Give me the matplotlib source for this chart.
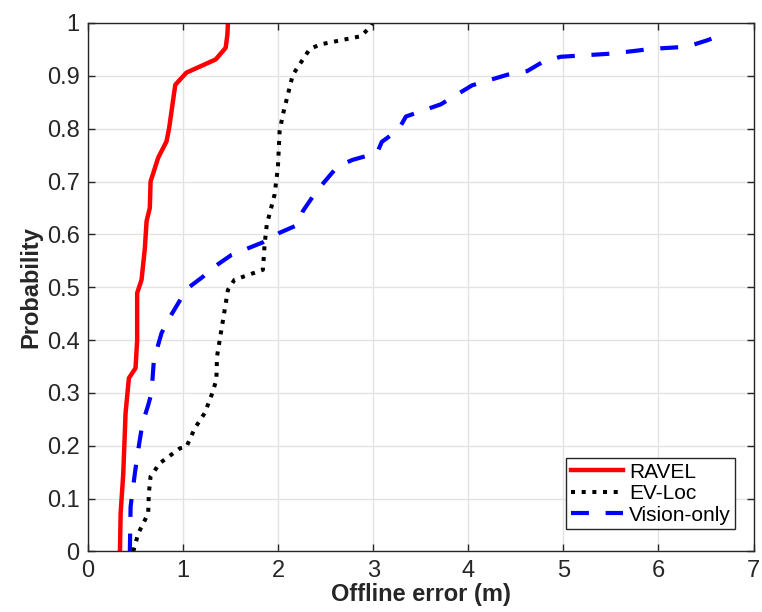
import matplotlib.pyplot as plt

plt.rcParams['font.family'] = ['Liberation Sans', 'DejaVu Sans']

# empirical CDF points (error in metres, cumulative probability)
ravel_err = [0.336, 0.343, 0.371, 0.395, 0.43, 0.50, 0.517, 0.517, 0.563, 0.598,
             0.616, 0.65, 0.658, 0.738, 0.826, 0.853, 0.918, 1.035, 1.343, 1.448,
             1.466, 1.472]
ravel_prob = [0.0, 0.072, 0.148, 0.262, 0.328, 0.347, 0.40, 0.489, 0.514, 0.574,
              0.625, 0.65, 0.70, 0.745, 0.776, 0.801, 0.883, 0.906, 0.931, 0.953,
              0.978, 1.0]

evloc_err = [0.476, 0.528, 0.633, 0.64, 0.658, 0.755, 0.965, 1.035, 1.123, 1.228,
             1.308, 1.35, 1.357, 1.385, 1.42, 1.472, 1.54, 1.84, 1.857, 1.88,
             1.962, 1.997, 2.015, 2.05, 2.154, 2.33, 2.434, 2.872, 2.96, 2.99]
evloc_prob = [0.0, 0.034, 0.072, 0.11, 0.142, 0.167, 0.195, 0.198, 0.233, 0.262,
              0.30, 0.325, 0.369, 0.40, 0.438, 0.495, 0.514, 0.533, 0.58, 0.618,
              0.675, 0.726, 0.795, 0.827, 0.902, 0.95, 0.959, 0.975, 0.991, 1.0]

vision_err = [0.44, 0.448, 0.493, 0.539, 0.574, 0.633, 0.668, 0.693, 0.773, 0.843,
              1.04, 1.21, 1.332, 1.508, 1.84, 2.015, 2.207, 2.26, 2.40, 2.627,
              2.784, 3.04, 3.09, 3.265, 3.344, 3.71, 4.04, 4.41, 4.62, 4.78,
              4.97, 5.51, 5.93, 6.30, 6.51, 6.70]
vision_prob = [0.0, 0.085, 0.148, 0.205, 0.243, 0.277, 0.30, 0.363, 0.413, 0.438,
               0.497, 0.52, 0.539, 0.561, 0.585, 0.603, 0.618, 0.644, 0.681, 0.729,
               0.741, 0.754, 0.775, 0.798, 0.823, 0.846, 0.882, 0.902, 0.909, 0.926,
               0.936, 0.942, 0.951, 0.955, 0.967, 0.980]

x_ticks = [0, 1, 2, 3, 4, 5, 6, 7]
y_ticks = [0, 0.1, 0.2, 0.3, 0.4, 0.5, 0.6, 0.7, 0.8, 0.9, 1]
y_tick_labels = ['0', '0.1', '0.2', '0.3', '0.4', '0.5', '0.6', '0.7', '0.8', '0.9', '1']

fig = plt.figure(figsize=(7.62, 6.12), dpi=100)
ax = fig.add_axes([0.1155, 0.0989, 0.8734, 0.8636])

ax.plot(ravel_err, ravel_prob, color='#ff0000', linewidth=3.2, label='RAVEL')
ax.plot(evloc_err, evloc_prob, color='black', linewidth=2.9, linestyle=':',
        label='EV-Loc')
ax.plot(vision_err, vision_prob, color='#0000ff', linewidth=3.0,
        dashes=(4.3, 4.0), label='Vision-only')

ax.set_xlim(0, 7)
ax.set_ylim(0, 1)
ax.set_xticks(x_ticks)
ax.set_yticks(y_ticks)
ax.set_yticklabels(y_tick_labels)
ax.grid(True, color='#e3e3e3', linewidth=1.0)
ax.set_axisbelow(True)

ax.tick_params(direction='in', top=True, right=True, length=5, width=1,
               colors='#262626', labelsize=17, pad=6)
for sp in ax.spines.values():
    sp.set_color('#262626')
    sp.set_linewidth(1.0)

ax.set_xlabel('Offline error (m)', fontsize=17, fontweight='bold',
              color='#262626', labelpad=1)
ax.set_ylabel('Probability', fontsize=17, fontweight='bold',
              color='#262626', labelpad=3)

leg = ax.legend(loc='lower right', bbox_to_anchor=(0.972, 0.043),
                borderaxespad=0, fontsize=15, handlelength=2.5,
                handletextpad=0.3, labelspacing=0.12, borderpad=0.2,
                fancybox=False, framealpha=1)
leg.get_frame().set_edgecolor('#262626')
leg.get_frame().set_linewidth(1.0)

fig.savefig('out.png', dpi=100)
